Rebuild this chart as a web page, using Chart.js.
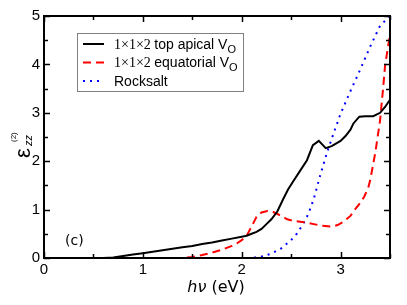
<!DOCTYPE html>
<html>
<head>
<meta charset="utf-8">
<script src="https://cdn.jsdelivr.net/npm/chart.js@4.4.0/dist/chart.umd.min.js"></script>
<style>
  html, body { margin: 0; padding: 0; background: #fff; }
</style>
</head>
<body>
<canvas id="eps-chart" width="407" height="305"></canvas>
<script>
// photon energy (eV) and eps_zz(2) for each structure
const apicalE = [0, 0.6, 0.7, 0.8, 0.9, 1.0, 1.1, 1.2, 1.3, 1.4, 1.5, 1.6, 1.7, 1.8, 1.9, 2.0, 2.05, 2.1, 2.15, 2.2, 2.25, 2.3, 2.36, 2.42, 2.47, 2.52, 2.59, 2.66, 2.72, 2.78, 2.85, 2.91, 3.0, 3.05, 3.1, 3.13, 3.19, 3.25, 3.33, 3.4, 3.45, 3.5];
const apicalEps = [0, 0, 0.01, 0.04, 0.07, 0.1, 0.13, 0.16, 0.19, 0.22, 0.25, 0.29, 0.32, 0.36, 0.4, 0.44, 0.46, 0.5, 0.54, 0.6, 0.7, 0.8, 0.96, 1.22, 1.42, 1.58, 1.8, 2.02, 2.33, 2.42, 2.27, 2.31, 2.42, 2.52, 2.65, 2.78, 2.92, 2.93, 2.93, 3.0, 3.12, 3.27];

const equatE = [0, 1.4, 1.5, 1.6, 1.7, 1.8, 1.9, 1.95, 2.0, 2.05, 2.1, 2.15, 2.2, 2.26, 2.32, 2.4, 2.46, 2.52, 2.59, 2.66, 2.73, 2.8, 2.91, 2.97, 3.03, 3.1, 3.14, 3.2, 3.24, 3.28, 3.3, 3.35, 3.4, 3.43, 3.45, 3.48, 3.5];
const equatEps = [0, 0, 0.02, 0.06, 0.11, 0.17, 0.25, 0.3, 0.37, 0.46, 0.65, 0.85, 0.94, 0.97, 0.95, 0.87, 0.8, 0.77, 0.75, 0.73, 0.7, 0.67, 0.65, 0.68, 0.75, 0.87, 0.99, 1.14, 1.27, 1.45, 1.61, 2.16, 2.85, 3.5, 3.97, 4.37, 4.6];

const rockE = [0, 2.1, 2.2, 2.3, 2.4, 2.5, 2.56, 2.62, 2.66, 2.7, 2.73, 2.79, 2.86, 2.93, 3.0, 3.1, 3.2, 3.3, 3.4, 3.5];
const rockEps = [0, 0, 0.03, 0.09, 0.2, 0.37, 0.51, 0.7, 0.85, 1.05, 1.23, 1.68, 2.16, 2.58, 2.98, 3.45, 3.9, 4.37, 4.8, 5.0];

const seriesNames = ["1\u00d71\u00d72 top apical V", "1\u00d71\u00d72 equatorial V", "Rocksalt"];
const xTickValues = [0, 1, 2, 3];
const yTickValues = [0, 1, 2, 3, 4, 5];

const toPoints = (xs, ys) => xs.map((x, i) => ({ x, y: ys[i] }));

const frameTicks = {
  id: "frameTicks",
  afterDatasetsDraw(chart) {
    const { ctx, chartArea: a, scales } = chart;
    ctx.save();
    ctx.strokeStyle = "#000";
    ctx.lineWidth = 1.5;
    for (let v = 0; v <= 3.5 + 1e-9; v += 0.5) {
      const px = Math.round(scales.x.getPixelForValue(v)) + 0.5;
      const len = Number.isInteger(v) ? 6 : 4;
      ctx.beginPath();
      ctx.moveTo(px, a.bottom); ctx.lineTo(px, a.bottom - len);
      ctx.moveTo(px, a.top); ctx.lineTo(px, a.top + len);
      ctx.stroke();
    }
    for (let v = 0; v <= 5 + 1e-9; v += 0.5) {
      const py = Math.round(scales.y.getPixelForValue(v)) + 0.5;
      const len = Number.isInteger(v) ? 6 : 4;
      ctx.beginPath();
      ctx.moveTo(a.left, py); ctx.lineTo(a.left + len, py);
      ctx.moveTo(a.right, py); ctx.lineTo(a.right - len, py);
      ctx.stroke();
    }
    ctx.lineWidth = 2;
    ctx.strokeRect(a.left, a.top, a.right - a.left, a.bottom - a.top);
    ctx.restore();
  },
  afterDraw(chart) {
    const { ctx } = chart;
    ctx.save();
    ctx.fillStyle = "#000";
    ctx.textBaseline = "alphabetic";

    // x axis title
    ctx.font = "italic 16px 'DejaVu Sans'";
    const hv = "h\u03bd";
    const w1 = ctx.measureText(hv).width;
    ctx.font = "16px 'DejaVu Sans'";
    const rest = " (eV)";
    const w2 = ctx.measureText(rest).width;
    let x0 = 216 - (w1 + w2) / 2;
    ctx.font = "italic 16px 'DejaVu Sans'";
    ctx.fillText(hv, x0, 292);
    ctx.font = "16px 'DejaVu Sans'";
    ctx.fillText(rest, x0 + w1, 292);

    // y axis title
    ctx.save();
    ctx.translate(30, 158);
    ctx.rotate(-Math.PI / 2);
    ctx.font = "22px 'Liberation Sans'";
    ctx.fillText("\u03b5", 0, 0);
    ctx.font = "8px 'Liberation Sans'";
    ctx.fillText("(2)", 16, -14);
    ctx.font = "italic 11px 'Liberation Sans'";
    ctx.fillText("zz", 12, 2);
    ctx.restore();

    // panel label
    ctx.font = "14px 'DejaVu Sans'";
    ctx.fillText("(c)", 65, 245);

    // legend
    const box = { x: 77.5, y: 33.5, w: 166, h: 58 };
    ctx.fillStyle = "#fff";
    ctx.fillRect(box.x, box.y, box.w, box.h);
    ctx.strokeStyle = "#808080";
    ctx.lineWidth = 1;
    ctx.strokeRect(box.x, box.y, box.w, box.h);
    const sets = chart.data.datasets;
    seriesNames.forEach((name, i) => {
      const base = 48.5 + i * 18.5;
      const ds = sets[i];
      ctx.strokeStyle = ds.borderColor;
      ctx.lineWidth = 2;
      ctx.setLineDash(ds.borderDash || []);
      ctx.beginPath();
      ctx.moveTo(83, base - 4.5);
      ctx.lineTo(104, base - 4.5);
      ctx.stroke();
      ctx.setLineDash([]);
      ctx.fillStyle = "#000";
      let tx = 114;
      if (name.startsWith("1\u00d7")) {
        const [lead, ...tail] = name.split(" ");
        ctx.font = "14px 'Liberation Serif'";
        ctx.fillText(lead, tx, base);
        tx += ctx.measureText(lead + " ").width;
        ctx.font = "14px 'Liberation Sans'";
        const t = tail.join(" ");
        ctx.fillText(t, tx, base);
        tx += ctx.measureText(t).width;
        ctx.font = "11px 'Liberation Sans'";
        ctx.fillText("O", tx, base + 4);
      } else {
        ctx.font = "14px 'Liberation Sans'";
        ctx.fillText(name, tx, base);
      }
    });
    ctx.restore();
  },
};

new Chart(document.getElementById("eps-chart"), {
  type: "line",
  data: {
    datasets: [
      {
        label: seriesNames[0],
        data: toPoints(apicalE, apicalEps),
        borderColor: "#000000",
        borderWidth: 2,
      },
      {
        label: seriesNames[1],
        data: toPoints(equatE, equatEps),
        borderColor: "#ff0000",
        borderWidth: 2,
        borderDash: [8, 5],
      },
      {
        label: seriesNames[2],
        data: toPoints(rockE, rockEps),
        borderColor: "#0000ff",
        borderWidth: 2,
        borderDash: [2, 5],
      },
    ],
  },
  options: {
    responsive: false,
    animation: false,
    layout: { padding: { top: 16, right: 17, left: 0, bottom: 0 } },
    elements: { point: { radius: 0 }, line: { tension: 0, fill: false } },
    plugins: { legend: { display: false }, tooltip: { enabled: false } },
    scales: {
      x: {
        type: "linear",
        min: 0,
        max: 3.5,
        grid: { display: false, drawTicks: false },
        border: { display: false },
        afterBuildTicks: (s) => { s.ticks = xTickValues.map((v) => ({ value: v })); },
        afterFit: (s) => { s.height = 47; },
        ticks: { color: "#000", padding: 3, maxRotation: 0, font: { family: "'Liberation Sans'", size: 15 } },
      },
      y: {
        min: 0,
        max: 5,
        grid: { display: false, drawTicks: false },
        border: { display: false },
        afterBuildTicks: (s) => { s.ticks = yTickValues.map((v) => ({ value: v })); },
        afterFit: (s) => { s.width = 44; },
        ticks: { color: "#000", padding: 4, font: { family: "'Liberation Sans'", size: 15 } },
      },
    },
  },
  plugins: [frameTicks],
});
</script>
</body>
</html>
